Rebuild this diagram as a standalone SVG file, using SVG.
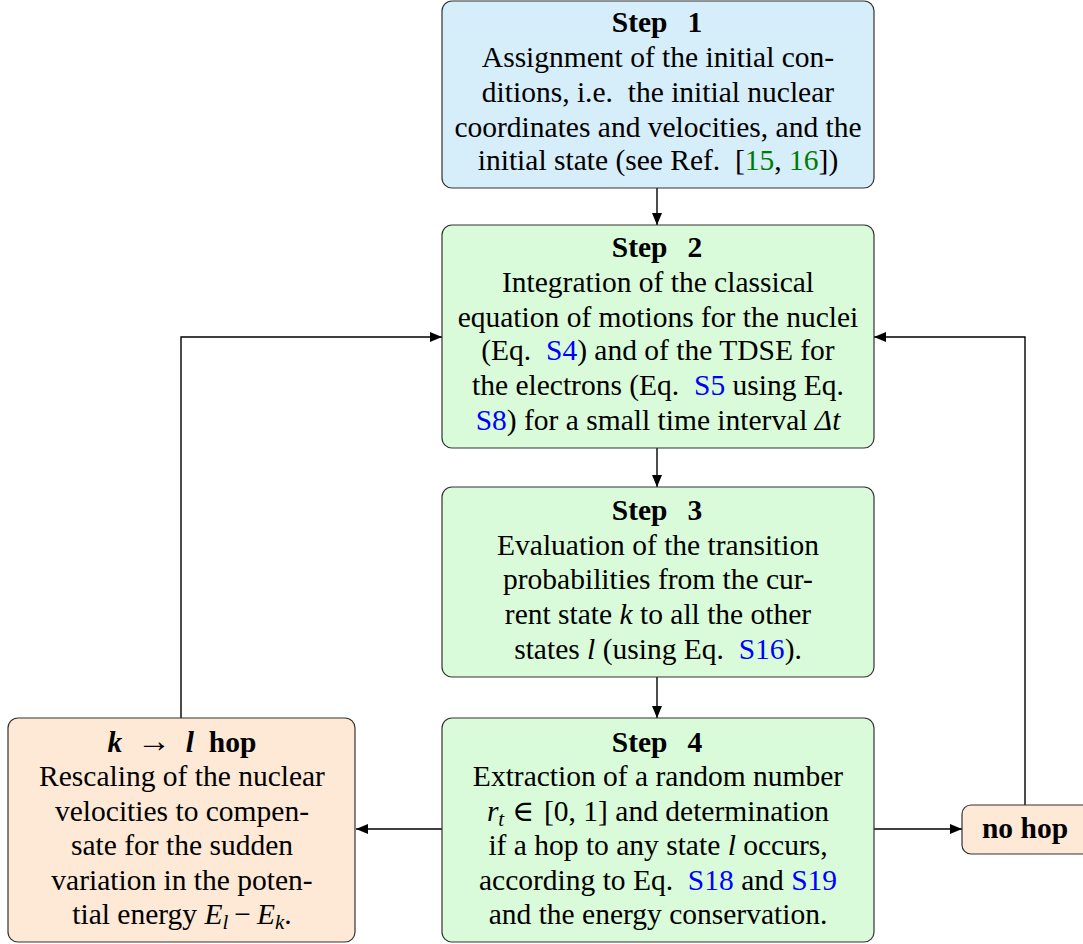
<svg xmlns="http://www.w3.org/2000/svg" width="1083" height="944" viewBox="0 0 1083 944">
<defs>
<marker id="ah" viewBox="0 0 12 10" refX="12" refY="5" markerWidth="12" markerHeight="10" markerUnits="userSpaceOnUse" orient="auto">
<path d="M0,0 L12,5 L0,10 Z" fill="#000"/>
</marker>
<style>
.box{stroke:#333;stroke-width:1.2}
.blue{fill:#d6edfa}
.green{fill:#d9fbd9}
.orange{fill:#fde9d6}
text{font-size:29.5px;fill:#000;text-anchor:middle}
.b{font-weight:bold}
.i{font-style:italic}
.s{font-size:21px}
.lb{fill:#0000ff}
.lg{fill:#007a00}
.edge{fill:none;stroke:#000;stroke-width:1.4;marker-end:url(#ah)}
</style>
</defs>
<g id="connectors">
<path class="edge" d="M657,188 V225"/>
<path class="edge" d="M657,448 V487"/>
<path class="edge" d="M657,677 V718"/>
<path class="edge" d="M442,829 H356"/>
<path class="edge" d="M874,829 H962"/>
<path class="edge" d="M181,718 V337 H442"/>
<path class="edge" d="M1025,805 V337 H874"/>
</g>
<g font-family="'Liberation Serif', 'Times New Roman', Tinos, 'DejaVu Serif', serif">
<g id="step1">
<rect class="box blue" x="442" y="1" width="432" height="187" rx="10"/>
<text x="657" y="32" class="b">Step<tspan dx="20">1</tspan></text>
<text x="658" y="67">Assignment of the initial con-</text>
<text x="658" y="102">ditions, i.e.&#160; the initial nuclear</text>
<text x="658" y="137">coordinates and velocities, and the</text>
<text x="658" y="170">initial state (see Ref.&#160; [<tspan class="lg">15</tspan>, <tspan class="lg">16</tspan>])</text>
</g>
<g id="step2">
<rect class="box green" x="442" y="225" width="432" height="223" rx="10"/>
<text x="657" y="257" class="b">Step<tspan dx="20">2</tspan></text>
<text x="658" y="292">Integration of the classical</text>
<text x="658" y="327">equation of motions for the nuclei</text>
<text x="658" y="360">(Eq.&#160; <tspan class="lb">S4</tspan>) and of the TDSE for</text>
<text x="658" y="395">the electrons (Eq.&#160; <tspan class="lb">S5</tspan> using Eq.</text>
<text x="658" y="430"><tspan class="lb">S8</tspan>) for a small time interval <tspan class="i">Δt</tspan></text>
</g>
<g id="step3">
<rect class="box green" x="442" y="487" width="432" height="190" rx="10"/>
<text x="657" y="520" class="b">Step<tspan dx="20">3</tspan></text>
<text x="658" y="555">Evaluation of the transition</text>
<text x="658" y="589">probabilities from the cur-</text>
<text x="658" y="624">rent state <tspan class="i">k</tspan> to all the other</text>
<text x="658" y="659">states <tspan class="i">l</tspan> (using Eq.&#160; <tspan class="lb">S16</tspan>).</text>
</g>
<g id="step4">
<rect class="box green" x="442" y="718" width="432" height="224" rx="10"/>
<text x="657" y="752" class="b">Step<tspan dx="20">4</tspan></text>
<text x="658" y="786">Extraction of a random number</text>
<text x="658" y="821"><tspan class="i">r</tspan><tspan class="i s" dy="5">t</tspan><tspan dy="-5" dx="8">∈</tspan><tspan dx="10">[0, 1] and determination</tspan></text>
<text x="658" y="855">if a hop to any state <tspan class="i">l</tspan> occurs,</text>
<text x="658" y="890">according to Eq.&#160; <tspan class="lb">S18</tspan> and <tspan class="lb">S19</tspan></text>
<text x="658" y="924">and the energy conservation.</text>
</g>
<g id="hop">
<rect class="box orange" x="8" y="718" width="347" height="224" rx="10"/>
<text x="182" y="752" class="b"><tspan class="i">k</tspan>&#160; <tspan font-weight="normal" font-size="34">→</tspan>&#160; <tspan class="i">l</tspan>&#160; hop</text>
<text x="182" y="786">Rescaling of the nuclear</text>
<text x="182" y="821">velocities to compen-</text>
<text x="182" y="855">sate for the sudden</text>
<text x="182" y="890">variation in the poten-</text>
<text x="182" y="924">tial energy <tspan class="i">E</tspan><tspan class="i s" dy="5">l</tspan><tspan dy="-5" dx="6">−</tspan><tspan class="i" dx="6">E</tspan><tspan class="i s" dy="5">k</tspan><tspan dy="-5">.</tspan></text>
</g>
<g id="nohop">
<rect class="box orange" x="962" y="805" width="130" height="49" rx="9"/>
<text x="1025" y="838" class="b">no hop</text>
</g>
</g>
</svg>
